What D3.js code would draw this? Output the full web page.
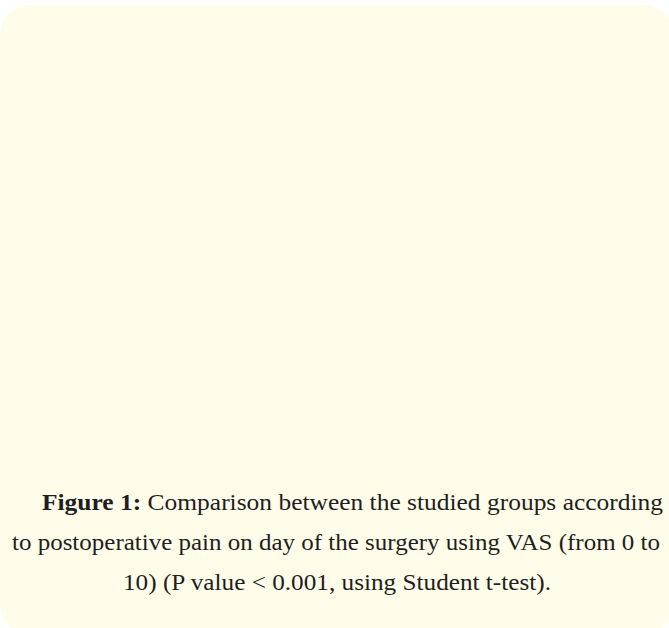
<!DOCTYPE html>
<html>
<head>
<meta charset="utf-8">
<script src="https://cdn.jsdelivr.net/npm/d3@7"></script>
<style>
  html, body { margin: 0; padding: 0; background: #ffffff; }
  svg { display: block; }
</style>
</head>
<body>
<div id="chart"></div>
<script>
// The figure image is empty in the reference; only the panel and its caption remain.
const captionLabel = "Figure 1:";
const captionLines = [
  " Comparison between the studied groups according",
  "to postoperative pain on day of the surgery using VAS (from 0 to",
  "10) (P value < 0.001, using Student t-test)."
];
const captionSpans = [[42, 663], [12, 660], [123, 551]];

const W = 669, H = 628;
const svg = d3.select("#chart").append("svg")
  .attr("width", W).attr("height", H);

svg.append("rect")
  .attr("x", 0).attr("y", 5)
  .attr("width", 674).attr("height", 629)
  .attr("rx", 30).attr("ry", 30)
  .attr("fill", "#fffce9");

const yLine = d3.scaleLinear().domain([0, 1]).range([510, 550]);

captionLines.forEach((line, i) => {
  const t = svg.append("text")
    .attr("x", captionSpans[i][0])
    .attr("y", yLine(i))
    .attr("font-family", "'Liberation Serif', 'Times New Roman', serif")
    .attr("font-size", 23)
    .attr("fill", "#1e1e1e");
  if (i === 0) {
    t.append("tspan").attr("font-weight", "bold").text(captionLabel);
  }
  t.append("tspan").text(line);
  t.attr("textLength", captionSpans[i][1] - captionSpans[i][0])
   .attr("lengthAdjust", "spacingAndGlyphs");
});
</script>
</body>
</html>
